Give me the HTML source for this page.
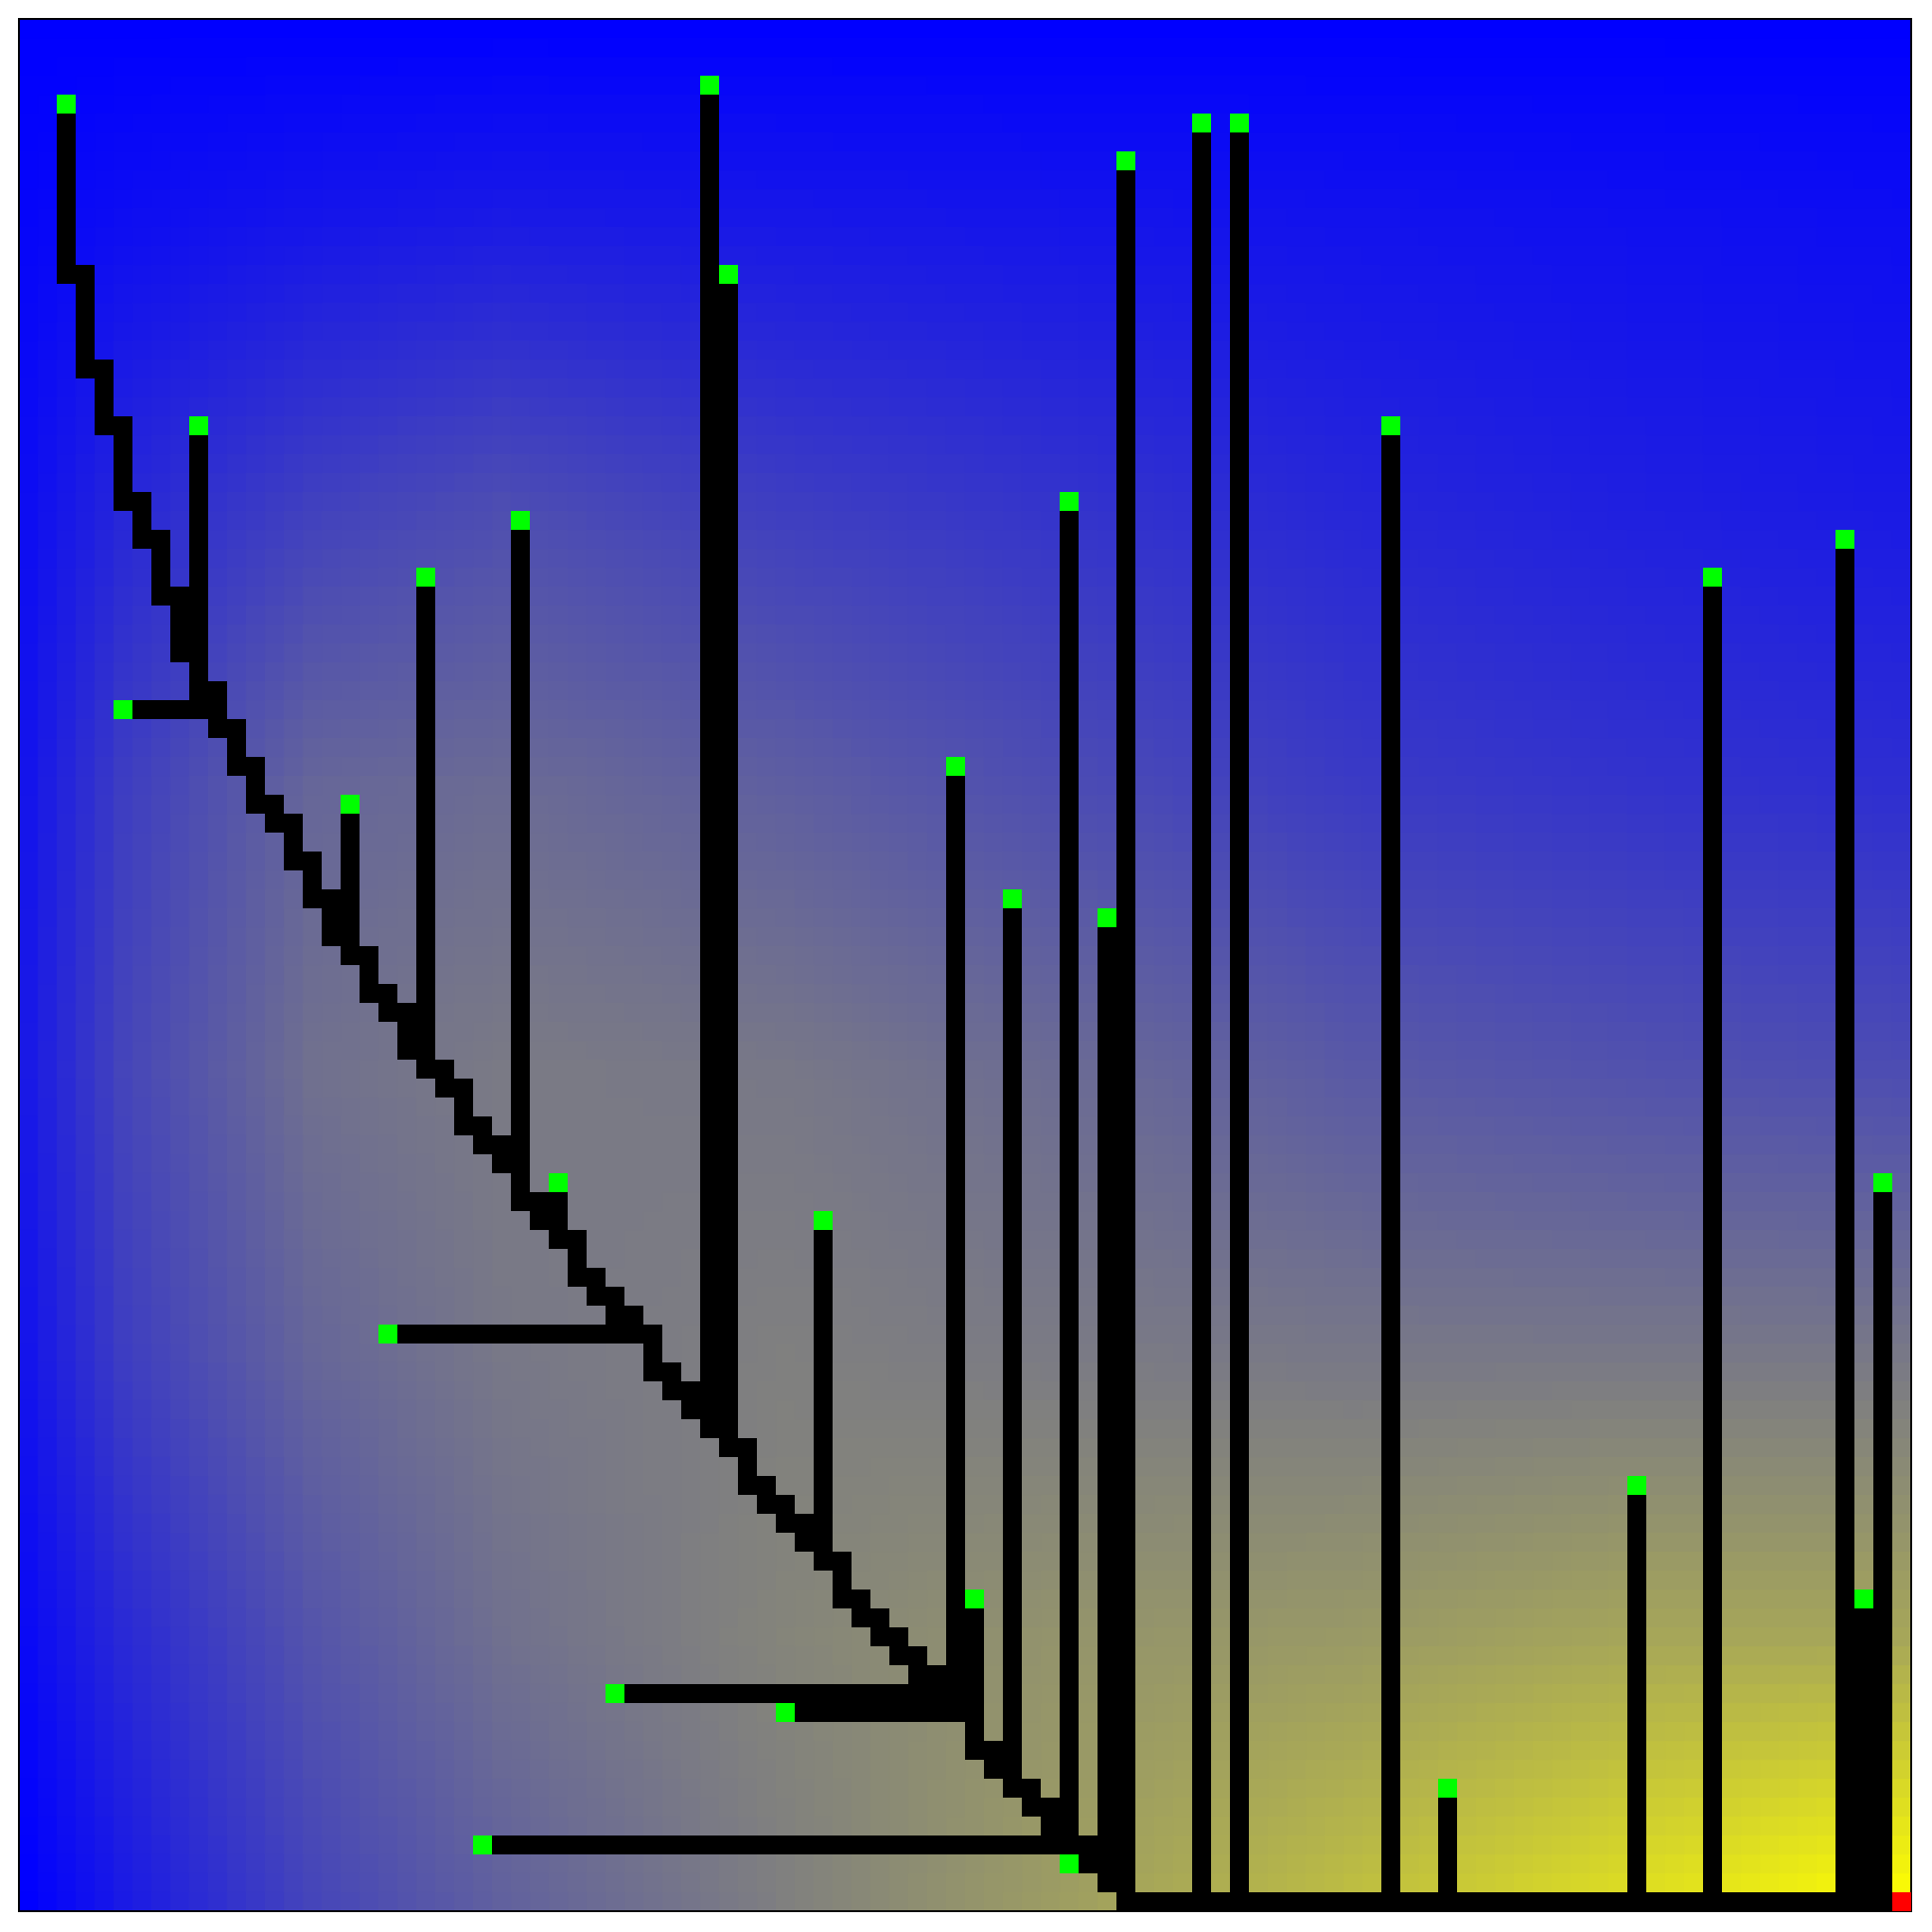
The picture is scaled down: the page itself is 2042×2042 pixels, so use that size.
<!DOCTYPE html>
<html>
<head>
<meta charset="utf-8">
<style>
  html, body { margin: 0; padding: 0; background: #ffffff; }
  #chart { position: relative; width: 2042px; height: 2042px; overflow: hidden; background: #fff; }
  #bg { position: absolute; left: 0; top: 0; }
  #marks { position: absolute; left: 0; top: 0; }
</style>
</head>
<body>
<div id="chart">
  <canvas id="bg" width="2042" height="2042"></canvas>
  <svg id="marks" width="2042" height="2042" xmlns="http://www.w3.org/2000/svg">
    <rect x="20" y="20" width="2000" height="2000" fill="none" stroke="#000" stroke-width="2"></rect>
  </svg>
</div>
<script>
// Grid data
const gridSize = [100, 100];
const goalCell = [99, 99];
// vertical runs: [col, rowStart, rowEnd]
const verticalSegs = [[2,5,13],[3,13,18],[4,18,21],[5,21,25],[6,25,27],[7,27,30],[8,30,33],[9,22,35],[10,35,37],[11,37,39],[12,39,41],[13,41,42],[14,42,44],[15,44,46],[16,46,48],[17,42,49],[18,49,51],[19,51,52],[20,52,54],[21,30,55],[22,55,56],[23,56,58],[24,58,59],[25,59,60],[26,27,62],[27,62,63],[28,62,64],[29,64,66],[30,66,67],[31,67,68],[32,68,69],[33,69,71],[34,71,72],[35,72,73],[36,4,74],[37,14,75],[38,75,77],[39,77,78],[40,78,79],[41,79,80],[42,64,81],[43,81,83],[44,83,84],[45,84,85],[46,85,86],[47,86,87],[48,87,88],[49,40,88],[50,84,91],[51,91,92],[52,47,93],[53,93,94],[54,94,95],[55,26,95],[56,96,97],[57,48,98],[58,8,99],[62,6,99],[64,6,99],[72,22,99],[75,94,99],[85,78,99],[89,30,99],[96,28,99],[97,84,99],[98,62,99]];
// horizontal runs: [row, colStart, colEnd]
const horizontalSegs = [[36,6,10],[69,20,33],[88,32,50],[89,41,50],[96,25,58],[97,56,58],[99,58,98]];
// start nodes (green): [col, row]
const startNodes = [[2,4],[36,3],[37,13],[9,21],[26,26],[21,29],[5,36],[17,41],[58,7],[62,5],[64,5],[55,25],[72,21],[49,39],[52,46],[57,47],[28,61],[42,63],[19,69],[50,83],[31,88],[40,89],[24,96],[55,97],[75,93],[85,77],[89,29],[96,27],[98,61],[97,83]];
// background blend samples (0 = blue, 1 = yellow)
const sampleCols = [0,5,15,25,40,55,70,85,99];
const sampleRows = [0,10,25,40,55,70,85,99];
const blendRow0  = [0,0,0,0,0,0,0,0,0];
const blendRow10 = [.02,.05,.08,.1,.09,.08,.07,.06,.05];
const blendRow25 = [.05,.15,.25,.3,.24,.2,.15,.12,.1];
const blendRow40 = [.08,.24,.4,.42,.37,.3,.23,.2,.18];
const blendRow55 = [.1,.27,.44,.48,.47,.42,.35,.32,.3];
const blendRow70 = [.08,.24,.4,.47,.5,.48,.47,.47,.47];
const blendRow85 = [.04,.16,.33,.44,.52,.58,.6,.65,.65];
const blendRow99 = [0,.1,.27,.38,.5,.62,.75,.88,1.0];
const blendTable = [blendRow0, blendRow10, blendRow25, blendRow40, blendRow55, blendRow70, blendRow85, blendRow99];

const ORIGIN = 20, CELL = 20;
function xOf(c) { return ORIGIN + c * CELL; }
function yOf(r) { return ORIGIN + r * CELL; }

function seg(arr, v) {
  for (let i = 0; i < arr.length - 1; i++) {
    if (v <= arr[i + 1]) return [i, (v - arr[i]) / (arr[i + 1] - arr[i])];
  }
  return [arr.length - 2, 1];
}
function blendAt(c, r) {
  const [i, fx] = seg(sampleCols, c);
  const [j, fy] = seg(sampleRows, r);
  const a = blendTable[j][i], b = blendTable[j][i + 1];
  const d = blendTable[j + 1][i], e = blendTable[j + 1][i + 1];
  return (a * (1 - fx) + b * fx) * (1 - fy) + (d * (1 - fx) + e * fx) * fy;
}

// background
const ctx = document.getElementById('bg').getContext('2d');
for (let r = 0; r < gridSize[1]; r++) {
  for (let c = 0; c < gridSize[0]; c++) {
    const t = Math.max(0, Math.min(1, blendAt(c, r)));
    const v = Math.round(255 * t);
    ctx.fillStyle = 'rgb(' + v + ',' + v + ',' + (255 - v) + ')';
    ctx.fillRect(xOf(c), yOf(r), CELL, CELL);
  }
}

const svg = document.getElementById('marks');
const NS = 'http://www.w3.org/2000/svg';
function addRect(x, y, w, h, fill) {
  const el = document.createElementNS(NS, 'rect');
  el.setAttribute('x', x);
  el.setAttribute('y', y);
  el.setAttribute('width', w);
  el.setAttribute('height', h);
  el.setAttribute('fill', fill);
  svg.appendChild(el);
  return el;
}
verticalSegs.forEach(function (s) {
  const el = addRect(xOf(s[0]), yOf(s[1]), CELL, (s[2] - s[1] + 1) * CELL, '#000');
  
  
});
horizontalSegs.forEach(function (s) {
  const el = addRect(xOf(s[1]), yOf(s[0]), (s[2] - s[1] + 1) * CELL, CELL, '#000');
  
  
});
startNodes.forEach(function (n) {
  const el = addRect(xOf(n[0]), yOf(n[1]), CELL, CELL, '#00ff00');
  
  
});
const goal = addRect(xOf(goalCell[0]), yOf(goalCell[1]), CELL, CELL, '#ff0000');


</script>
</body>
</html>
